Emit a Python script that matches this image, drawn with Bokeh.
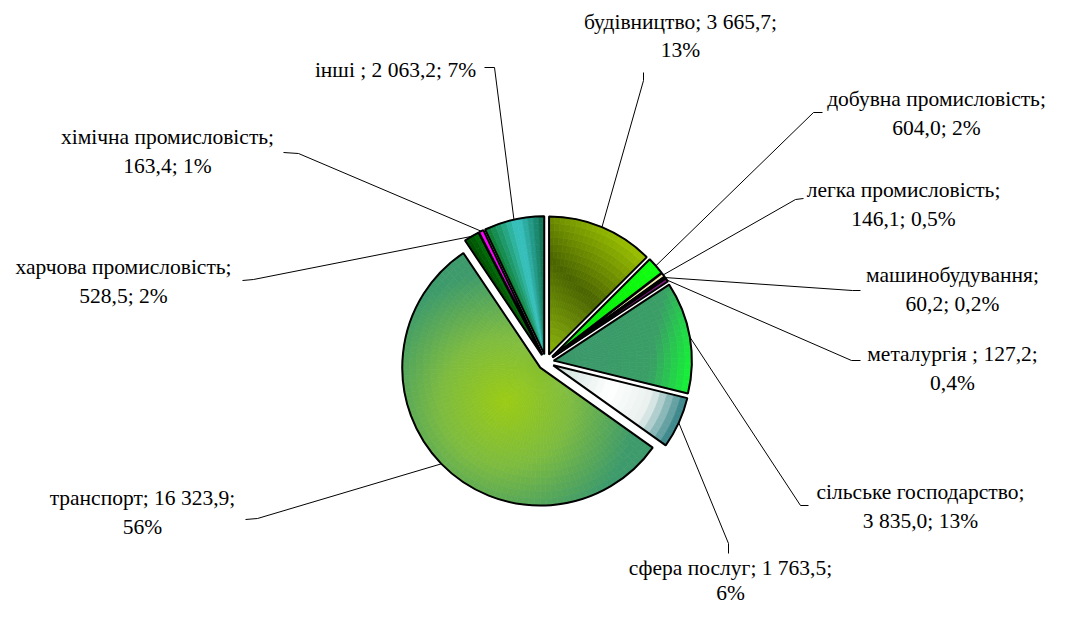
import numpy as np
from bokeh.plotting import figure
from bokeh.models import Range1d, ColumnDataSource
from bokeh.core.properties import value
from bokeh.embed import file_html
from bokeh.resources import INLINE

# ---------------- data ----------------
categories = ["будівництво", "добувна промисловість", "легка промисловість",
              "машинобудування", "металургія ", "сільське господарство",
              "сфера послуг", "транспорт", "харчова промисловість",
              "хімічна промисловість", "інші "]
values = [3665.7, 604.0, 146.1, 60.2, 127.2, 3835.0, 1763.5, 16323.9, 528.5, 163.4, 2063.2]
pct_labels = ["13%", "2%", "0,5%", "0,2%", "0,4%", "13%", "6%", "56%", "2%", "1%", "7%"]
# where the data label breaks: "name" -> after name, "value" -> after value, "none"
label_breaks = ["value", "name", "name", "name", "value", "name", "value", "value", "name", "name", "none"]

# ---------------- layout / style ----------------
FIG_W, FIG_H = 1051, 605
CX, CY_PX = 545.5, 361.5      # pie centre in picture pixels
R = 138.0
EXPLODE = 8.0

# label centre x, first-line y, second-line y (picture pixels)
label_pos = [(680, 21, 49), (936, 98, 127), (903, 189, 218), (952, 274, 303),
             (952, 353, 382), (920, 491, 520), (730, 567, 592), (142, 497, 526),
             (123, 266, 295), (167, 136, 165), (395, 69, None)]
# leader line start and elbow (picture pixels)
leader_pts = [((643, 72), (643, 80)), ((822, 112), (813, 112)), ((803, 198), (795, 199)),
              ((860, 290), (852, 290)), ((860, 360), (851, 360)), ((808, 505), (800, 505)),
              ((728, 553), (728, 543)), ((245, 519), (257, 518)), ((242, 280), (253, 279)),
              ((283, 152), (298, 153)), ((484, 67), (494, 67))]

# gradient specs per slice: (type, param, stops)
grad = [
    ("linear", 45, [(0, "#8DB60A"), (0.5, "#4A6400"), (1.0, "#9CC200")]),
    ("radial", None, [(0, "#00E000"), (1.0, "#10FF10")]),
    ("radial", None, [(0, "#FFFFC8"), (1.0, "#F0EBB0")]),
    ("radial", None, [(0, "#2A002E"), (1.0, "#2A002E")]),
    ("radial", None, [(0, "#6A0A6A"), (1.0, "#7A1A7A")]),
    ("linear", 100, [(0, "#3A966A"), (0.7, "#3A9E66"), (1.0, "#14F535")]),
    ("radial", None, [(0, "#C8DED8"), (0.45, "#FFFFFF"), (0.75, "#E8F0EE"), (1.0, "#2D7F82")]),
    ("point", 0.35, [(0, "#9ACB12"), (0.5, "#7DBB40"), (1.0, "#3D9A6B")]),
    ("angle", None, [(0, "#004A00"), (1.0, "#006E08")]),
    ("radial", None, [(0, "#FF00FF"), (1.0, "#FF00FF")]),
    ("angle", None, [(0, "#0C7A2A"), (0.55, "#3AC6C6"), (1.0, "#0E6E4A")]),
]

FONT = value("Liberation Serif")


def hex2rgb(h):
    h = h.lstrip("#")
    return np.array([int(h[i:i + 2], 16) for i in (0, 2, 4)], dtype=float)


def interp(stops, s):
    s = min(max(s, 0.0), 1.0)
    for (a, ca), (b, cb) in zip(stops[:-1], stops[1:]):
        if s <= b:
            t = 0 if b == a else (s - a) / (b - a)
            c = hex2rgb(ca) * (1 - t) + hex2rgb(cb) * t
            return "#%02x%02x%02x" % tuple(int(round(v)) for v in c)
    return stops[-1][1]


def py(y):
    # picture pixel y -> data y (data y grows upward)
    return FIG_H - y


total = float(sum(values))
fracs = np.array(values) / total
ends = np.cumsum(fracs) * 2 * np.pi
starts = ends - fracs * 2 * np.pi
mids = (starts + ends) / 2

cy = py(CY_PX)
centers = [(CX + EXPLODE * np.sin(m), cy + EXPLODE * np.cos(m)) for m in mids]

p = figure(width=FIG_W, height=FIG_H, x_range=Range1d(0, FIG_W), y_range=Range1d(0, FIG_H),
           output_backend="svg", toolbar_location=None, min_border=0,
           x_axis_location=None, y_axis_location=None)
p.grid.visible = False
p.outline_line_color = None
p.background_fill_color = "white"
p.border_fill_color = "white"

# gradient cells
cell = dict(x=[], y=[], ri=[], ro=[], sa=[], ea=[], c=[])
NR = 20
for i in range(len(values)):
    t0, t1 = starts[i], ends[i]
    ox, oy = centers[i]
    nt = max(1, int(np.ceil(np.degrees(t1 - t0) / 2.5)))
    tedges = np.linspace(t0, t1, nt + 1)
    redges = np.linspace(0, R, NR + 1)
    gtype, gpar, stops = grad[i]
    for k in range(NR):
        for j in range(nt):
            rc = (redges[k] + redges[k + 1]) / 2
            tc = (tedges[j] + tedges[j + 1]) / 2
            if gtype == "radial":
                s = rc / R
            elif gtype == "angle":
                s = (tc - t0) / (t1 - t0)
            elif gtype == "linear":
                phi = np.radians(gpar)
                s = rc * np.cos(tc - phi) / R
            else:
                fx = gpar * R * np.sin(mids[i])
                fy = gpar * R * np.cos(mids[i])
                px_ = rc * np.sin(tc)
                py_ = rc * np.cos(tc)
                s = np.hypot(px_ - fx, py_ - fy) / (R * 0.95)
            col = interp(stops, s)
            cell["x"].append(ox)
            cell["y"].append(oy)
            cell["ri"].append(redges[k])
            cell["ro"].append(redges[k + 1])
            cell["sa"].append(np.pi / 2 - tedges[j])
            cell["ea"].append(np.pi / 2 - tedges[j + 1])
            cell["c"].append(col)

p.annular_wedge(x="x", y="y", inner_radius="ri", outer_radius="ro",
                start_angle="sa", end_angle="ea", direction="clock",
                fill_color="c", line_color="c", line_width=0.7,
                source=ColumnDataSource(cell))

# outlines
p.wedge(x=[c[0] for c in centers], y=[c[1] for c in centers], radius=R,
        start_angle=list(np.pi / 2 - starts), end_angle=list(np.pi / 2 - ends),
        direction="clock", fill_color=None, line_color="black", line_width=2)

# leader lines
xs, ys = [], []
for i in range(len(values)):
    (sx, sy), (ex, ey) = leader_pts[i]
    tx = centers[i][0] + R * np.sin(mids[i])
    ty = centers[i][1] + R * np.cos(mids[i])
    xs.append([sx, ex, tx])
    ys.append([py(sy), py(ey), ty])
p.multi_line(xs=xs, ys=ys, line_color="black", line_width=1)


def fmt(v):
    return f"{v:,.1f}".replace(",", " ").replace(".", ",")


tx, ty, tt = [], [], []
for i, cat in enumerate(categories):
    v = fmt(values[i])
    if label_breaks[i] == "name":
        lines = [f"{cat};", f"{v}; {pct_labels[i]}"]
    elif label_breaks[i] == "value":
        lines = [f"{cat}; {v};", pct_labels[i]]
    else:
        lines = [f"{cat}; {v}; {pct_labels[i]}"]
    lx, l1, l2 = label_pos[i]
    for ln, yy in zip(lines, [l1, l2]):
        tx.append(lx)
        ty.append(py(yy))
        tt.append(ln)

p.text(x=tx, y=ty, text=tt, text_font=FONT, text_font_size="21.5px",
       text_align="center", text_baseline="middle", text_color="black")

open("out.html", "w").write(file_html(p, INLINE))
